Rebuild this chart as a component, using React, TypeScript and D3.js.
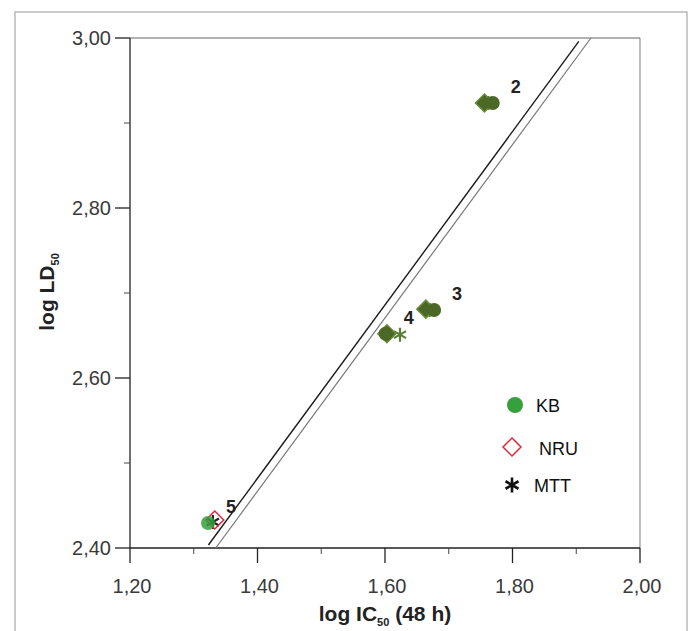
import React from "react";
import * as d3 from "d3";

const compounds = ["2", "3", "4", "5"];
const kbX = [1.769, 1.677, 1.601, 1.3224];
const kbY = [2.9235, 2.68, 2.652, 2.4294];
const nruX = [1.756, 1.664, 1.603, 1.333];
const nruY = [2.9235, 2.681, 2.652, 2.433];
const mttX = [1.762, 1.67, 1.6235, 1.33];
const mttY = [2.9235, 2.68, 2.651, 2.4306];

const fitLine1X = [1.323, 1.904];
const fitLine1Y = [2.4035, 2.996];
const fitLine2X = [1.3345, 1.923];
const fitLine2Y = [2.4, 3.0];

const xTicks = [1.2, 1.4, 1.6, 1.8, 2.0];
const xMinor = [1.3, 1.5, 1.7, 1.9];
const yTicks = [2.4, 2.6, 2.8, 3.0];
const yMinor = [2.5, 2.7, 2.9];

const legendItems = ["KB", "NRU", "MTT"];

const W = 694;
const H = 631;
const left = 130, right = 640, top = 38, bottom = 548;

const OLIVE = "#4b6826";
const GREEN = "#36a03c";
const RED = "#e0283c";

const fmt = (v: number) => v.toFixed(2).replace(".", ",");

function asteriskPath(cx: number, cy: number, r: number) {
  let d = "";
  for (let i = 0; i < 3; i++) {
    const a = (Math.PI / 3) * i + Math.PI / 2;
    const dx = Math.cos(a) * r, dy = Math.sin(a) * r;
    d += `M${cx - dx},${cy - dy}L${cx + dx},${cy + dy}`;
  }
  return d;
}
function diamondPath(cx: number, cy: number, r: number) {
  return `M${cx},${cy - r}L${cx + r},${cy}L${cx},${cy + r}L${cx - r},${cy}Z`;
}

export default function App() {
  const x = d3.scaleLinear().domain([1.2, 2.0]).range([left, right]);
  const y = d3.scaleLinear().domain([2.4, 3.0]).range([bottom, top]);
  const line = d3.line<[number, number]>().x((d) => x(d[0])).y((d) => y(d[1]));
  const l1 = line(fitLine1X.map((v, i) => [v, fitLine1Y[i]] as [number, number])) || "";
  const l2 = line(fitLine2X.map((v, i) => [v, fitLine2Y[i]] as [number, number])) || "";
  const font = "Liberation Sans, Arial, sans-serif";

  return (
    <svg width={W} height={H} style={{ position: "absolute", left: 0, top: 0, background: "#fff" }} fontFamily={font}>
      <rect x={0} y={0} width={W} height={H} fill="#fff" />
      <rect x={15} y={12} width={672} height={H} fill="none" stroke="#a8a8a8" strokeWidth={1.2} />
      {/* plot frame */}
      <line x1={left} x2={right} y1={top} y2={top} stroke="#666" strokeWidth={1.1} />
      <line x1={right} x2={right} y1={top} y2={bottom} stroke="#888" strokeWidth={1.1} />
      <line x1={left} x2={right} y1={bottom} y2={bottom} stroke="#222" strokeWidth={1.3} />
      <line x1={left} x2={left} y1={top} y2={bottom} stroke="#222" strokeWidth={1.3} />
      {xTicks.map((t) => (
        <g key={"xt" + t}>
          <line x1={x(t)} x2={x(t)} y1={bottom} y2={bottom + 15} stroke="#222" strokeWidth={1.3} />
          <text x={x(t) + 2} y={593} textAnchor="middle" fontSize={20} fill="#3a3a3a">{fmt(t)}</text>
        </g>
      ))}
      {xMinor.map((t) => (
        <line key={"xm" + t} x1={x(t)} x2={x(t)} y1={bottom} y2={bottom + 6} stroke="#444" strokeWidth={1} />
      ))}
      {yTicks.map((t) => (
        <g key={"yt" + t}>
          <line x1={left - 15} x2={left} y1={y(t)} y2={y(t)} stroke="#222" strokeWidth={1.3} />
          <text x={111} y={y(t) + 7} textAnchor="end" fontSize={20} fill="#3a3a3a">{fmt(t)}</text>
        </g>
      ))}
      {yMinor.map((t) => (
        <line key={"ym" + t} x1={left - 6} x2={left} y1={y(t)} y2={y(t)} stroke="#444" strokeWidth={1} />
      ))}
      {/* axis titles */}
      <text x={385} y={621} textAnchor="middle" fontSize={21} fontWeight="bold" fill="#222">
        log IC<tspan fontSize={11} dy={5}>50</tspan><tspan dy={-5}> (48 h)</tspan>
      </text>
      <text transform="translate(54,292) rotate(-90)" textAnchor="middle" fontSize={21} fontWeight="bold" fill="#222">
        log LD<tspan fontSize={11} dy={5}>50</tspan>
      </text>
      {/* regression lines */}
      <path d={l2} stroke="#777" strokeWidth={1.2} fill="none" />
      <path d={l1} stroke="#1a1a1a" strokeWidth={1.4} fill="none" />
      {/* data markers */}
      {compounds.map((c, i) => {
        const last = i === compounds.length - 1;
        return (
          <g key={"c" + c}>
            <path d={asteriskPath(x(mttX[i]), y(mttY[i]), 7)} stroke={last ? "#222" : "#5a7f34"} strokeWidth={2.2} fill="none" />
            <path d={diamondPath(x(nruX[i]), y(nruY[i]), 9)} stroke={last ? RED : "#6a8a40"} strokeWidth={1.5} fill={last ? "none" : OLIVE} />
            <circle cx={x(kbX[i])} cy={y(kbY[i])} r={7} fill={last ? GREEN : OLIVE} opacity={last ? 0.85 : 1} />
            <text x={x(kbX[i]) + 23} y={y(kbY[i]) - 10} textAnchor="middle" fontSize={18} fontWeight="bold" fill="#222">{c}</text>
          </g>
        );
      })}
      {/* legend */}
      <circle cx={515} cy={405} r={8} fill={GREEN} />
      <text x={536} y={412} fontSize={18} fill="#111">{legendItems[0]}</text>
      <path d={diamondPath(512, 447, 9)} stroke={RED} strokeWidth={1.5} fill="none" />
      <text x={539} y={455} fontSize={18} fill="#111">{legendItems[1]}</text>
      <path d={asteriskPath(512, 485, 7.5)} stroke="#111" strokeWidth={2.6} fill="none" />
      <text x={534} y={492} fontSize={18} fill="#111">{legendItems[2]}</text>
    </svg>
  );
}
